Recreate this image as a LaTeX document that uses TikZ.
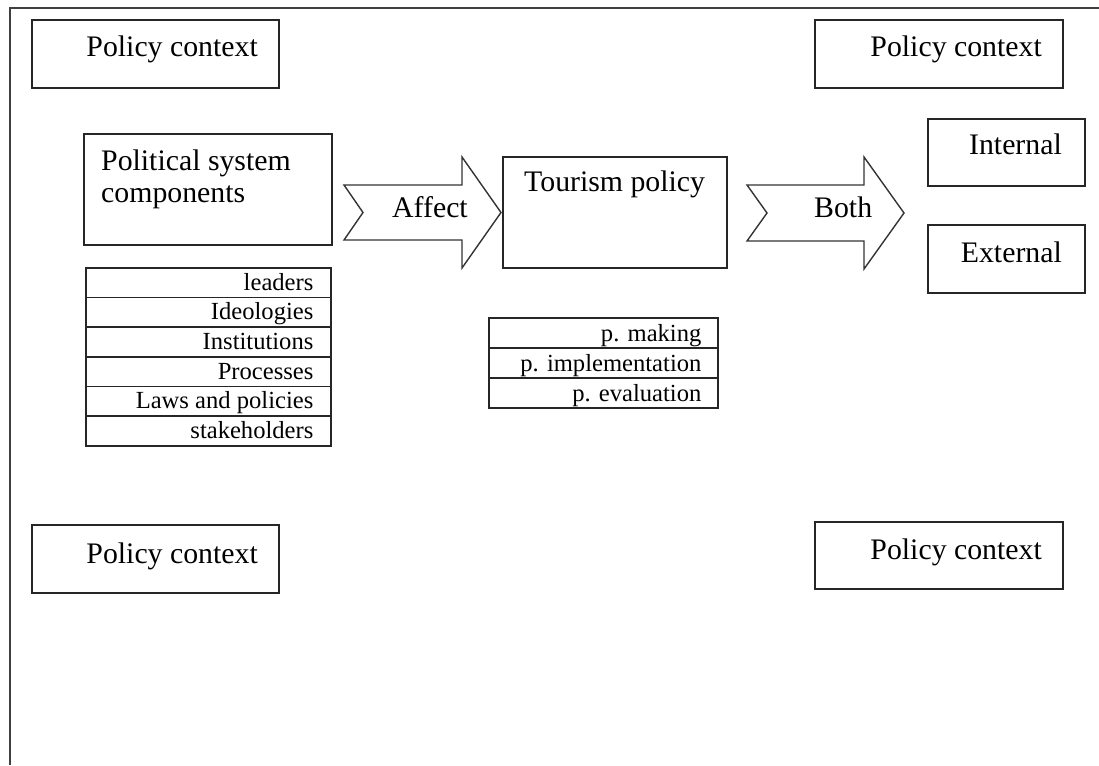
\documentclass[tikz,border=0pt]{standalone}
\usepackage{fontspec}
\setmainfont{Liberation Serif}
\usetikzlibrary{calc}
\begin{document}
\begin{tikzpicture}[x=1pt,y=-1pt,
  box/.style={draw=black!85,line width=1.6pt,inner sep=0pt},
  arrowshape/.style={draw=black!80,line width=1.4pt,line join=miter},
  big/.style={font=\fontsize{29.8}{36}\selectfont,inner sep=0pt},
  small/.style={font=\fontsize{24.6}{29}\selectfont,inner sep=0pt}]
\useasboundingbox (0,0) rectangle (1099,765);
% outer frame (top and left only)
\draw[black!75,line width=2pt] (1099,8.5) -- (9.5,8.5) -- (9.5,765);

% policy context boxes
\node[box,anchor=north west,minimum width=247pt,minimum height=68pt] (pc1) at (31,19) {};
\node[big,anchor=base east] (pc1t) at (258,57) {Policy context};
\node[box,anchor=north west,minimum width=248pt,minimum height=68pt] (pc2) at (814,19) {};
\node[big,anchor=base east] (pc2t) at (1042,57) {Policy context};
\node[box,anchor=north west,minimum width=247pt,minimum height=68pt] (pc3) at (31,524) {};
\node[big,anchor=base east] (pc3t) at (258,563) {Policy context};
\node[box,anchor=north west,minimum width=248pt,minimum height=67pt] (pc4) at (814,521) {};
\node[big,anchor=base east] (pc4t) at (1042,559) {Policy context};

% political system components
\node[box,anchor=north west,minimum width=248pt,minimum height=111pt] (psc) at (83,133) {};
\node[big,anchor=base west] (psct1) at (101,170) {Political system};
\node[big,anchor=base west] (psct2) at (101,202) {components};

% list of components
\foreach \t [count=\i] in {leaders,Ideologies,Institutions,Processes,Laws and policies,stakeholders} {
  \node[box,anchor=north west,minimum width=245pt,minimum height=29.67pt] (sys\i) at (85,{267+29.67*(\i-1)}) {};
  \node[small,anchor=base east] (syst\i) at ($(sys\i.south east)+(-18,-8)$) {\t};
}

% Affect arrow
\draw[arrowshape] (344,185) -- (462,185) -- (462,157) -- (501,212.5) -- (462,268) -- (462,240) -- (344,240) -- (363,212.5) -- cycle;
\node[big,anchor=base west] (affect) at (392,217) {Affect};

% tourism policy
\node[box,anchor=north west,minimum width=224pt,minimum height=111pt] (tp) at (502,156) {};
\node[big,anchor=base west] (tpt) at (524,191) {Tourism policy};

% policy stages
\foreach \t [count=\i] in {p. making,p. implementation,p. evaluation} {
  \node[box,anchor=north west,minimum width=229pt,minimum height=30pt] (st\i) at (488,{317+30*(\i-1)}) {};
  \node[small,anchor=base east] (stt\i) at ($(st\i.south east)+(-17,-7)$) {\t};
}

% Both arrow
\draw[arrowshape] (747,185) -- (864,185) -- (864,157) -- (904,213) -- (864,269) -- (864,241) -- (747,241) -- (767,213) -- cycle;
\node[big,anchor=base west] (both) at (814,217) {Both};

% internal / external
\node[box,anchor=north west,minimum width=157pt,minimum height=67pt] (int) at (927,118) {};
\node[big,anchor=base east] (intt) at (1062,154) {Internal};
\node[box,anchor=north west,minimum width=157pt,minimum height=68pt] (ext) at (927,224) {};
\node[big,anchor=base east] (extt) at (1062,262) {External};
\end{tikzpicture}
\end{document}
